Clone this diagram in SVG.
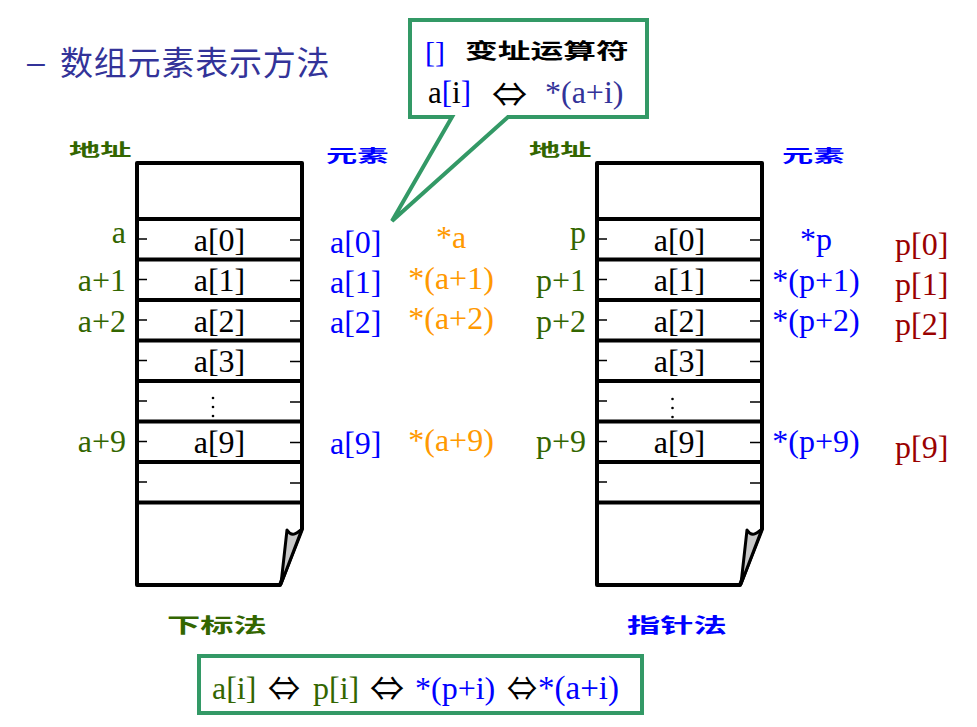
<svg xmlns="http://www.w3.org/2000/svg" width="977" height="727" viewBox="0 0 977 727">
<style>
.t{font-family:"Liberation Serif","Times New Roman",serif;font-size:32px}
.arr{font-family:"Noto Sans CJK SC","DejaVu Sans",sans-serif;font-size:34px;fill:#000}
.cj{font-family:"Noto Sans CJK SC",sans-serif;font-weight:bold;font-size:24px}
.g{fill:#336600}.b{fill:#0000ff}.o{fill:#ff9900}.r{fill:#990000}.k{fill:#000}.n{fill:#333399}
.box{fill:#fff;stroke:#000;stroke-width:4;stroke-linejoin:round}
.row{stroke:#000;stroke-width:4}
.tick{stroke:#000;stroke-width:1.5}
.fold{fill:#c8c8c8;stroke:#000;stroke-width:3;stroke-linejoin:round}
.frame{fill:#fff;stroke:#339966;stroke-width:4}
</style>
<rect width="977" height="727" fill="#fff"/>
<g id="title">
<text x="27" y="73" style="font-family:'Liberation Sans',sans-serif;font-size:32px" class="n">–</text>
<text x="60" y="75" style="font-family:'Noto Sans CJK SC',sans-serif;font-size:33px;letter-spacing:0.8px" class="n">数组元素表示方法</text>
</g>
<g id="callout">
<path class="frame" d="M410,20 H647 V117 H508 L392,221 L452,117 H410 Z"/>
<text x="425" y="62" class="t b" style="font-size:30px">[]</text>
<text transform="translate(465,58) scale(1.31,0.84)" class="cj k" style="font-size:25px">变址运算符</text>
<text x="428" y="103" class="t k" style="font-size:31px">a<tspan class="b">[</tspan>i<tspan class="b">]</tspan></text>
<text x="492" y="107" class="arr" textLength="35" lengthAdjust="spacingAndGlyphs">⇔</text>
<text x="545" y="103" class="t n">*(a+i)</text>
</g>
<g id="array-left">
<text transform="translate(69,156) scale(1.3,0.72)" class="cj g">地址</text>
<text transform="translate(326,162) scale(1.3,0.72)" class="cj b">元素</text>
<path class="box" d="M137,163 H302 V529 L280,585 H137 Z"/>
<path class="fold" d="M302,529 C297,533 292,538 287,530 L281,584 Z"/>
<g class="row">
<line x1="137" y1="219" x2="300" y2="219"/><line x1="137" y1="259.5" x2="300" y2="259.5"/>
<line x1="137" y1="300" x2="300" y2="300"/><line x1="137" y1="340.5" x2="300" y2="340.5"/>
<line x1="137" y1="381" x2="300" y2="381"/><line x1="137" y1="421.5" x2="300" y2="421.5"/>
<line x1="137" y1="462" x2="300" y2="462"/><line x1="137" y1="502.5" x2="300" y2="502.5"/>
</g>
<g class="tick">
<path d="M139,239 H147 M139,279.5 H147 M139,320 H147 M139,360.5 H147 M139,401 H147 M139,441.5 H147 M139,482 H147"/>
<path d="M290,240 H300 M290,280.5 H300 M290,321 H300 M290,361.5 H300 M290,402 H300 M290,442.5 H300 M290,483 H300"/>
</g>
<g class="t k" text-anchor="middle">
<text x="219.5" y="251">a[0]</text><text x="219.5" y="291">a[1]</text>
<text x="219.5" y="332">a[2]</text><text x="219.5" y="372">a[3]</text>
<text x="219.5" y="453">a[9]</text>
</g>
<circle cx="213" cy="398" r="1.3"/><circle cx="213" cy="407" r="1.3"/><circle cx="213" cy="416" r="1.3"/>
<g class="t g" text-anchor="end">
<text x="126" y="243">a</text><text x="126" y="291">a+1</text>
<text x="126" y="332">a+2</text><text x="126" y="452">a+9</text>
</g>
<g class="t b">
<text x="330" y="253">a[0]</text><text x="330" y="293">a[1]</text>
<text x="330" y="333">a[2]</text><text x="330" y="454">a[9]</text>
</g>
<g class="t o" text-anchor="middle">
<text x="451" y="248">*a</text><text x="451" y="289">*(a+1)</text>
<text x="451" y="329">*(a+2)</text><text x="451" y="451">*(a+9)</text>
</g>
<text transform="translate(167,633) scale(1.33,0.8)" class="cj g" style="font-size:25px">下标法</text>
</g>
<g id="array-right">
<text transform="translate(529,156) scale(1.3,0.72)" class="cj g">地址</text>
<text transform="translate(782,162) scale(1.3,0.72)" class="cj b">元素</text>
<path class="box" d="M597,163 H762 V529 L740,585 H597 Z"/>
<path class="fold" d="M762,529 C757,533 752,538 747,530 L741,584 Z"/>
<g class="row">
<line x1="597" y1="219" x2="760" y2="219"/><line x1="597" y1="259.5" x2="760" y2="259.5"/>
<line x1="597" y1="300" x2="760" y2="300"/><line x1="597" y1="340.5" x2="760" y2="340.5"/>
<line x1="597" y1="381" x2="760" y2="381"/><line x1="597" y1="421.5" x2="760" y2="421.5"/>
<line x1="597" y1="462" x2="760" y2="462"/><line x1="597" y1="502.5" x2="760" y2="502.5"/>
</g>
<g class="tick">
<path d="M599,239 H607 M599,279.5 H607 M599,320 H607 M599,360.5 H607 M599,401 H607 M599,441.5 H607 M599,482 H607"/>
<path d="M750,240 H760 M750,280.5 H760 M750,321 H760 M750,361.5 H760 M750,402 H760 M750,442.5 H760 M750,483 H760"/>
</g>
<g class="t k" text-anchor="middle">
<text x="679.5" y="251">a[0]</text><text x="679.5" y="291">a[1]</text>
<text x="679.5" y="332">a[2]</text><text x="679.5" y="372">a[3]</text>
<text x="679.5" y="453">a[9]</text>
</g>
<circle cx="672.5" cy="399" r="1.3"/><circle cx="672.5" cy="408" r="1.3"/><circle cx="672.5" cy="417" r="1.3"/>
<g class="t g" text-anchor="end">
<text x="586" y="243">p</text><text x="586" y="291">p+1</text>
<text x="586" y="332">p+2</text><text x="586" y="452">p+9</text>
</g>
<g class="t b" text-anchor="middle">
<text x="816" y="250">*p</text><text x="816" y="291">*(p+1)</text>
<text x="816" y="331">*(p+2)</text><text x="816" y="452">*(p+9)</text>
</g>
<g class="t r">
<text x="895" y="255">p[0]</text><text x="895" y="295">p[1]</text>
<text x="895" y="335">p[2]</text><text x="895" y="458">p[9]</text>
</g>
<text transform="translate(627,633) scale(1.33,0.8)" class="cj b" style="font-size:25px">指针法</text>
</g>
<g id="formula">
<rect class="frame" x="199" y="656" width="443" height="57"/>
<text x="212" y="699" class="t g">a[i]</text>
<text x="268" y="701" class="arr" textLength="32" lengthAdjust="spacingAndGlyphs">⇔</text>
<text x="313" y="699" class="t g">p[i]</text>
<text x="370" y="701" class="arr" textLength="34" lengthAdjust="spacingAndGlyphs">⇔</text>
<text x="415" y="699" class="t b">*(p+i)</text>
<text x="507" y="701" class="arr" textLength="30" lengthAdjust="spacingAndGlyphs">⇔</text>
<text x="538" y="699" class="t b" style="font-size:33px">*(a+i)</text>
</g>
</svg>
